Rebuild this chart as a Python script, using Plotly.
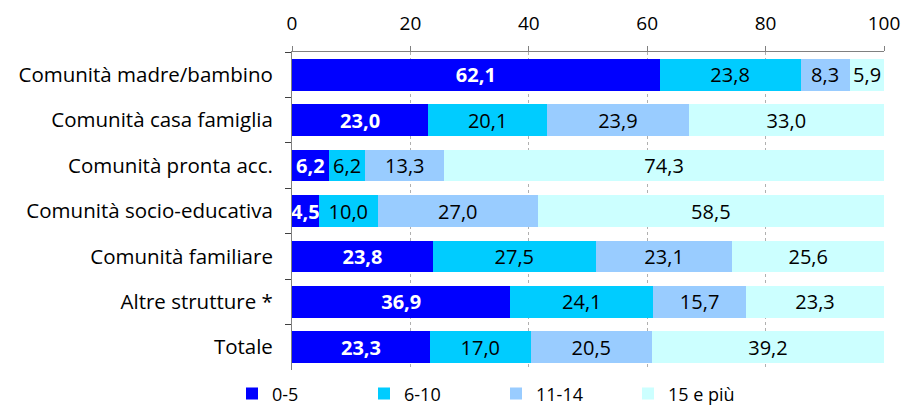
import plotly.graph_objects as go

categories = ["Comunità madre/bambino", "Comunità casa famiglia", "Comunità pronta acc.",
              "Comunità socio-educativa", "Comunità familiare", "Altre strutture *", "Totale"]
series_names = ["0-5", "6-10", "11-14", "15 e più"]
v_0_5 = [62.1, 23.0, 6.2, 4.5, 23.8, 36.9, 23.3]
v_6_10 = [23.8, 20.1, 6.2, 10.0, 27.5, 24.1, 17.0]
v_11_14 = [8.3, 23.9, 13.3, 27.0, 23.1, 15.7, 20.5]
v_15 = [5.9, 33.0, 74.3, 58.5, 25.6, 23.3, 39.2]
colors = ["#0000FF", "#00CCFF", "#99CCFF", "#CCFFFF"]
tick_vals = [0, 20, 40, 60, 80, 100]

FONT = "Open Sans"
fig = go.Figure()
for i, (name, vals) in enumerate(zip(series_names, [v_0_5, v_6_10, v_11_14, v_15])):
    first = i == 0
    fig.add_trace(go.Bar(
        y=categories, x=vals, name=name, orientation="h",
        marker=dict(color=colors[i], line=dict(width=0)),
        texttemplate="%{x:.1f}", textposition="inside", insidetextanchor="middle",
        constraintext="none", textangle=0,
        textfont=dict(family=FONT, size=20, color="white" if first else "black",
                      weight="bold" if first else "normal"),
        width=0.7,
    ))

fig.update_layout(
    barmode="stack",
    separators=",.",
    width=902, height=406,
    margin=dict(l=292, r=18, t=52, b=36, autoexpand=False),
    plot_bgcolor="white", paper_bgcolor="white",
    font=dict(family=FONT, size=19, color="black"),
    showlegend=True,
    legend=dict(orientation="h", traceorder="normal",
                xref="container", x=(250 - 18) / 902, xanchor="left",
                yref="container", y=0.03, yanchor="middle",
                entrywidth=87, font=dict(size=18), itemwidth=30,
                tracegroupgap=0, bgcolor="rgba(0,0,0,0)"),
    xaxis=dict(side="top", range=[0, 100], tickvals=tick_vals, showgrid=True,
               gridcolor="#B0B0B0", griddash="dot", gridwidth=1,
               showline=True, linecolor="#808080", linewidth=1,
               ticks="outside", ticklen=5, tickcolor="#808080", zeroline=False,
               tickfont=dict(size=19), ticklabelstandoff=8, automargin=False),
    yaxis=dict(autorange="reversed", showline=True, linecolor="#808080", linewidth=1,
               ticks="outside", ticklen=6, tickcolor="#404040", tickson="boundaries",
               showgrid=False, tickfont=dict(size=20.5), ticklabelstandoff=14,
               automargin=False),
)
fig.write_html("out.html", config={"displayModeBar": False},
               post_script="document.body.style.margin='0px';")
